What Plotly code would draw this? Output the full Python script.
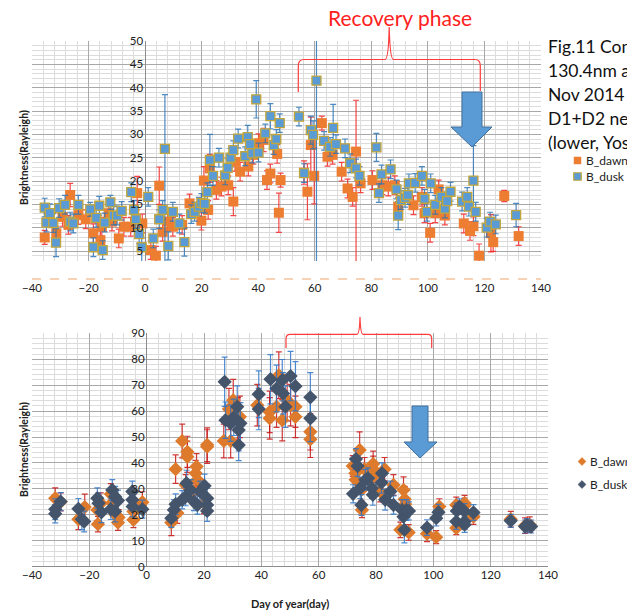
import plotly.graph_objects as go

W, H = 627, 613

# ---------------- data: top chart (squares) ----------------
top_dawn_x = [-35.5, -31.4, -29.2, -27.1, -26.5, -23.6, -21.0, -18.3, -15.8, -15.3,
              -12.9, -11.7, -9.3, -7.5, -5.1, -2.8, -1.0, 2.0, 3.8, 5.0,
              6.2, 8.0, 9.8, 13.1, 15.7, 19.9, 20.8, 22.3, 22.9, 25.2,
              27.0, 29.4, 31.2, 31.8, 33.6, 36.5, 38.3, 40.1, 41.9, 43.1,
              44.3, 46.7, 47.3, 47.9, 56.2, 57.4, 58.6, 59.8, 62.5, 64.5,
              66.3, 69.5, 71.6, 73.4, 74.6, 76.2, 80.4, 83.9, 86.0, 88.3,
              89.5, 94.9, 97.9, 98.8, 100.8, 102.6, 103.8, 106.0, 112.7, 114.9,
              116.1, 118.1, 122.3, 123.1, 127.0, 132.1]
top_dawn_y = [7.9, 8.8, 12.3, 10.6, 17.0, 12.7, 11.8, 8.8, 7.3, 10.2,
              13.1, 11.3, 7.7, 10.2, 10.2, 17.4, 10.9, 5.2, 4.0, 19.0,
              9.1, 11.3, 10.2, 10.6, 15.2, 11.5, 20.1, 13.8, 22.7, 18.1,
              18.8, 19.1, 15.6, 24.1, 22.0, 23.1, 25.6, 28.1, 28.8, 20.2,
              21.6, 25.8, 13.2, 20.2, 21.8, 17.7, 27.7, 21.1, 32.4, 25.2,
              25.6, 22.0, 18.4, 16.6, 26.3, 19.5, 20.2, 19.1, 18.8, 19.1,
              14.5, 14.8, 16.6, 13.1, 8.9, 13.1, 18.2, 12.6, 10.9, 9.3,
              10.3, 4.0, 8.8, 6.9, 16.8, 8.2]
top_dawn_err_up = [1.5, 1.5, 2, 2, 2.5, 2, 2, 2, 2, 2,
                   2, 2, 2, 2, 2, 3.6, 2, 2, 2, 4,
                   2, 2, 2, 2, 2, 2, 3, 2, 3, 2,
                   2, 2, 3, 2, 2, 2, 2, 2, 2.5, 2,
                   2, 2, 4.2, 1.5, 2.5, 6, 6, 6, 1.5, 2,
                   2, 2, 2, 2, 11, 2, 2, 2, 2, 2,
                   2, 2, 2, 2, 2, 2, 2, 2, 2, 2,
                   2, 2.5, 4, 2, 1.2, 2]
top_dawn_err_dn = [1.5, 1.5, 2, 2, 2.5, 2, 2, 2, 2, 2,
                   2, 2, 2, 2, 2, 3.6, 2, 2, 2, 4,
                   2, 2, 2, 2, 2, 2, 3, 2, 3, 2,
                   2, 2, 3, 2, 2, 2, 2, 2, 2.5, 2,
                   2, 2, 4.2, 1.5, 2.5, 6, 6, 6, 1.5, 2,
                   2, 2, 2, 2, 27, 2, 2, 2, 2, 2,
                   2, 2, 2, 2, 2, 2, 2, 2, 2, 2,
                   2, 2.5, 4, 2, 1.2, 2]

top_dusk_x = [-35.5, -34.9, -33.7, -32.5, -31.5, -30.4, -28.3, -26.5, -25.4, -23.6,
              -19.4, -18.3, -17.3, -16.2, -15.0, -14.3, -12.3, -11.1, -9.9, -8.3,
              -4.9, -3.9, -3.3, -2.1, -1.2, 1.1, 2.9, 5.0, 6.2, 7.0,
              8.2, 9.8, 12.1, 13.9, 16.3, 17.5, 19.0, 19.9, 21.1, 22.0,
              22.9, 24.0, 26.1, 28.3, 29.2, 30.2, 31.2, 32.9, 35.4, 36.3,
              37.1, 37.9, 39.3, 40.1, 42.5, 44.3, 45.5, 46.4, 47.6, 54.4,
              56.2, 58.6, 59.4, 60.6, 63.3, 65.4, 66.5, 67.5, 70.7, 72.5,
              74.6, 75.8, 81.8, 82.7, 83.6, 86.8, 88.9, 89.5, 90.5, 91.9,
              92.9, 93.3, 95.5, 97.9, 98.8, 99.6, 101.0, 102.6, 104.8, 106.0,
              106.8, 108.0, 112.1, 113.9, 114.5, 116.1, 116.9, 120.8, 122.0, 124.0,
              131.2]
top_dusk_y = [14.3, 11.1, 13.1, 11.0, 6.8, 14.2, 14.9, 11.3, 10.9, 14.9,
              13.9, 5.8, 12.1, 14.7, 5.2, 11.1, 15.4, 12.6, 12.6, 13.6,
              17.6, 13.8, 11.8, 8.6, 5.8, 16.6, 7.7, 11.8, 13.8, 26.9,
              6.1, 13.4, 10.9, 6.9, 12.9, 13.4, 14.5, 15.3, 15.1, 17.6,
              24.5, 21.1, 25.0, 21.2, 22.8, 25.0, 26.6, 29.1, 25.3, 29.4,
              27.9, 25.9, 37.5, 26.1, 30.2, 33.9, 27.7, 29.0, 32.4, 33.8,
              21.7, 30.9, 29.9, 41.5, 28.6, 27.3, 31.4, 27.9, 27.0, 23.8,
              22.7, 21.1, 27.2, 17.4, 21.4, 22.5, 18.2, 12.6, 15.9, 16.4,
              17.0, 19.5, 19.6, 21.1, 16.2, 13.4, 19.5, 14.9, 16.6, 14.1,
              15.7, 17.7, 15.6, 16.6, 14.5, 20.1, 13.4, 10.0, 11.3, 10.7,
              12.7]
top_dusk_err_up = [2, 2, 2, 2, 3, 2, 2, 2, 2, 2,
                   1.5, 2, 2, 2, 2, 2, 1.5, 2, 2, 2,
                   2, 2, 2, 2, 2, 2, 2, 2, 2, 11.6,
                   3, 2, 2, 3, 2, 2, 2, 2, 2, 2,
                   5.5, 2, 2, 2, 2, 2, 2, 2, 2, 2.5,
                   2, 2, 4, 2, 2, 2.7, 2, 2, 2, 2,
                   2, 3, 3, 10, 2, 2, 5, 2, 2, 2,
                   2, 2, 3, 2, 2, 2, 2, 3, 2, 2,
                   2, 2, 2, 2, 2, 2, 2, 2, 2, 2,
                   2, 2, 2, 2, 2, 7.5, 2, 2, 2, 2,
                   2.5]
top_dusk_err_dn = [2, 2, 2, 2, 3, 2, 2, 2, 2, 2,
                   1.5, 2, 2, 2, 2, 2, 1.5, 2, 2, 2,
                   2, 2, 2, 2, 5.8, 2, 2, 2, 2, 27,
                   3, 2, 2, 3, 2, 2, 2, 2, 2, 2,
                   5.5, 2, 2, 2, 2, 2, 2, 2, 2, 2.5,
                   2, 2, 4, 2, 2, 2.7, 2, 2, 2, 2,
                   2, 3, 3, 42, 2, 2, 5, 2, 2, 2,
                   2, 2, 3, 2, 2, 2, 2, 3, 2, 2,
                   2, 2, 2, 2, 2, 2, 2, 2, 2, 2,
                   2, 2, 2, 2, 2, 6, 2, 2, 2, 2,
                   2.5]

# ---------------- data: bottom chart (diamonds) ----------------
bot_dawn_x = [-31.9, -30.0, -23.8, -21.6, -17.2, -17.0, -16.0, -12.5, -12.0, -10.8,
              -10.0, -9.8, -4.6, -4.6, -1.5, 8.6, 10.1, 10.7, 12.4, 13.6,
              14.2, 14.2, 16.5, 17.1, 17.4, 17.7, 20.0, 21.1, 21.1, 26.9,
              28.7, 29.3, 30.2, 31.8, 32.5, 38.6, 42.9, 42.9, 45.3, 46.1,
              47.3, 49.0, 50.2, 51.9, 51.9, 57.1, 57.1, 71.9, 72.8, 72.9,
              74.3, 74.9, 75.1, 76.0, 79.0, 79.0, 79.0, 81.5, 83.0, 86.1,
              88.5, 89.6, 90.0, 90.2, 91.4, 97.8, 101.0, 102.1, 108.0, 108.0,
              110.9, 110.9, 114.0, 127.0, 132.0, 133.6]
bot_dawn_y = [26.4, 25.0, 18.3, 23.0, 21.9, 16.4, 24.5, 28.0, 24.7, 20.0,
              17.0, 19.0, 18.1, 21.3, 24.9, 17.0, 37.6, 20.7, 48.5, 31.5,
              42.4, 44.3, 29.0, 36.0, 38.6, 33.5, 24.5, 46.3, 47.0, 48.5,
              60.8, 48.5, 64.2, 57.2, 57.8, 62.3, 59.7, 57.2, 61.7, 73.8,
              56.5, 64.2, 62.3, 61.7, 57.8, 52.0, 49.1, 38.8, 36.0, 33.5,
              45.0, 29.6, 21.9, 37.6, 39.6, 37.6, 34.7, 29.0, 37.6, 31.5,
              14.2, 29.6, 26.0, 24.1, 13.2, 12.7, 11.4, 23.2, 23.8, 14.9,
              24.5, 23.5, 19.3, 18.3, 15.8, 16.2]
bot_dawn_err = [4, 3.5, 4, 5, 4, 3, 4, 4, 4, 3,
                3, 3, 3, 3, 4, 5, 5.5, 4, 6.5, 4,
                6, 6, 4, 5, 5, 4, 4, 6.5, 6.5, 6.5,
                8, 6.5, 8, 8, 8, 8, 8, 8, 8, 9,
                8, 8, 8, 8, 8, 7, 7, 4, 4, 4,
                7, 4, 3, 4.5, 5, 5, 5, 4, 4.5, 4,
                3, 5, 5, 5, 3, 3, 2.5, 3, 3, 2.5,
                3, 3, 3, 3, 3, 3]

bot_dusk_x = [-31.9, -31.9, -30.0, -23.8, -22.6, -21.8, -17.2, -16.8, -15.8, -12.0,
              -11.0, -12.5, -11.0, -10.0, -5.0, -5.0, -4.9, -1.5, 8.6, 9.5,
              10.1, 12.4, 13.6, 13.9, 15.3, 16.5, 17.7, 18.6, 20.2, 21.1,
              21.1, 21.1, 27.2, 27.5, 29.3, 30.4, 31.6, 32.1, 32.1, 32.7,
              39.1, 39.1, 43.2, 45.3, 47.3, 47.6, 48.4, 50.2, 51.9, 57.1,
              57.1, 72.0, 73.0, 73.6, 74.5, 74.9, 76.3, 77.2, 78.6, 78.9,
              82.1, 81.9, 83.2, 85.0, 86.1, 89.1, 89.6, 89.9, 90.6, 91.5,
              97.8, 101.0, 101.8, 108.0, 108.2, 109.1, 110.9, 110.9, 110.9, 114.0,
              127.0, 132.0, 132.7, 134.1]
bot_dusk_y = [22.2, 20.4, 25.1, 22.3, 18.3, 17.4, 26.4, 24.5, 21.0, 29.6,
              27.0, 22.2, 21.3, 25.5, 29.0, 25.8, 23.2, 22.2, 18.7, 21.9,
              24.1, 25.8, 27.0, 32.2, 29.6, 25.1, 23.8, 29.0, 31.2, 26.4,
              23.8, 21.5, 71.3, 56.5, 55.3, 57.6, 61.7, 52.7, 46.9, 55.3,
              66.5, 60.8, 72.3, 68.7, 71.9, 66.8, 61.7, 73.5, 69.6, 65.3,
              57.2, 28.1, 41.5, 38.8, 30.3, 23.8, 33.5, 34.1, 30.3, 27.7,
              36.0, 32.4, 25.8, 29.0, 23.8, 21.9, 19.3, 14.2, 21.9, 21.5,
              15.1, 18.7, 21.0, 17.4, 21.5, 23.2, 17.4, 16.2, 21.3, 20.9,
              17.7, 15.5, 16.0, 15.5]
bot_dusk_err = [4, 3.5, 3.5, 4, 4, 4, 4, 4, 4, 4,
                4, 4, 4, 4, 4, 4, 4, 3.5, 3.5, 4,
                4, 3.5, 3.5, 5, 4, 3.5, 3.5, 4, 4.5, 4,
                4, 4, 9.5, 7, 7, 7, 8, 8, 6, 8,
                9, 8, 9.5, 9, 8, 8, 8, 9.5, 9.5, 9.5,
                9, 3.5, 4, 4, 4, 4, 4, 4, 4, 4,
                4, 4, 4, 4, 3.5, 4, 4, 5, 4, 3.5,
                3, 3, 3, 3, 3, 3, 3, 3, 3, 3,
                2.5, 2.5, 2.5, 2.5]

x_ticks = [-40, -20, 0, 20, 40, 60, 80, 100, 120, 140]
top_y_ticks = [5, 10, 15, 20, 25, 30, 35, 40, 45, 50]
bot_y_ticks = [0, 10, 20, 30, 40, 50, 60, 70, 80, 90]
series_names = ["B_dawn", "B_dusk"]
side_text = ["Fig.11 Comparison of", "130.4nm and", "Nov 2014", "D1+D2 neutral", "(lower, Yoshioka)"]

FONT = "Lato, Carlito, 'Liberation Sans', sans-serif"
ORANGE_SQ = "#ED7D31"
BLUE_SQ = "#5B9BD5"
GOLD = "#C2A63C"
ORANGE_DI = "#DD7A2C"
DARK_DI = "#44546A"


def pxx(p):
    return p / W


def pxy(p):
    return 1 - p / H


fig = go.Figure()

# top chart
fig.add_trace(go.Scatter(
    x=top_dawn_x, y=top_dawn_y, mode="markers", name=series_names[0],
    marker=dict(symbol="square", size=10, color=ORANGE_SQ, line=dict(width=0)),
    error_y=dict(type="data", array=top_dawn_err_up, arrayminus=top_dawn_err_dn,
                 color="rgba(245,40,40,0.85)", thickness=1.2, width=3),
    xaxis="x", yaxis="y", showlegend=False))
fig.add_trace(go.Scatter(
    x=top_dusk_x, y=top_dusk_y, mode="markers", name=series_names[1],
    marker=dict(symbol="square", size=9, color=BLUE_SQ, line=dict(width=1.3, color=GOLD)),
    error_y=dict(type="data", array=top_dusk_err_up, arrayminus=top_dusk_err_dn,
                 color="rgba(46,117,182,0.85)", thickness=1.2, width=3),
    xaxis="x", yaxis="y", showlegend=False))

# bottom chart
fig.add_trace(go.Scatter(
    x=bot_dawn_x, y=bot_dawn_y, mode="markers", name=series_names[0],
    marker=dict(symbol="diamond", size=11, color=ORANGE_DI, line=dict(width=0)),
    error_y=dict(type="data", array=bot_dawn_err, color="rgba(200,20,20,0.85)",
                 thickness=1.2, width=3),
    xaxis="x2", yaxis="y2", showlegend=False))
fig.add_trace(go.Scatter(
    x=bot_dusk_x, y=bot_dusk_y, mode="markers", name=series_names[1],
    marker=dict(symbol="diamond", size=11, color=DARK_DI, line=dict(width=0)),
    error_y=dict(type="data", array=bot_dusk_err, color="rgba(46,117,200,0.85)",
                 thickness=1.2, width=3),
    xaxis="x2", yaxis="y2", showlegend=False))

MAJ = "#A8A8A8"
MIN = "#DCDCDC"
tickfont = dict(family=FONT, size=11.5, color="#222")

x_common = dict(range=[-40, 140], tickmode="array", tickvals=x_ticks,
                showgrid=True, gridcolor=MAJ, gridwidth=1,
                minor=dict(dtick=4, tick0=-40, showgrid=True, gridcolor=MIN, gridwidth=1),
                zeroline=True, zerolinecolor="#8C8C8C", zerolinewidth=1,
                showline=False, ticks="", tickfont=tickfont, fixedrange=True)

# top chart: grid ends at py 261, the dashed base line sits lower at py 279
TOP_Y0 = -1 + (279 - 261) * 51 / 238

fig.update_layout(
    width=W, height=H, margin=dict(l=0, r=0, t=0, b=0, autoexpand=False),
    paper_bgcolor="white", plot_bgcolor="white",
    font=dict(family=FONT),
    xaxis=dict(domain=[pxx(32), pxx(541)], anchor="y", ticklabelstandoff=18, **x_common),
    yaxis=dict(domain=[pxy(261), pxy(41)], range=[TOP_Y0, 50], anchor="free",
               position=pxx(32 + 40 * 509 / 180), tickmode="array", tickvals=top_y_ticks,
               showgrid=True, gridcolor=MAJ,
               minor=dict(dtick=1, tick0=0, showgrid=True, gridcolor=MIN),
               zeroline=False, showline=False, ticks="", tickfont=tickfont,
               ticklabelstandoff=2, fixedrange=True),
    xaxis2=dict(domain=[pxx(32), pxx(548)], anchor="y2", **x_common),
    yaxis2=dict(domain=[pxy(566.7), pxy(333.3)], range=[0, 90], anchor="free",
                position=pxx(32 + 40 * 516 / 180), tickmode="array", tickvals=bot_y_ticks,
                showgrid=True, gridcolor=MAJ,
                minor=dict(dtick=2, tick0=0, showgrid=True, gridcolor=MIN),
                zeroline=True, zerolinecolor="#8C8C8C", zerolinewidth=1.2,
                showline=False, ticks="", tickfont=tickfont,
                ticklabelstandoff=2, fixedrange=True),
)

shapes = []
# dashed orange baseline of top chart
shapes.append(dict(type="line", xref="paper", yref="paper",
                   x0=pxx(32), x1=pxx(541), y0=pxy(279), y1=pxy(279),
                   line=dict(color="#F6C39C", width=1.3, dash="dash")))


def pth(cmds, close=False):
    s = ""
    for cmd, pts in cmds:
        s += cmd + " " + " ".join("%.5f,%.5f" % (pxx(a), pxy(b)) for a, b in pts) + " "
    if close:
        s += "Z"
    return s


def poly(points):
    cmds = [("M", [points[0]])] + [("L", [p]) for p in points[1:]]
    return pth(cmds, close=True)


# curly braces (red)
top_brace = pth([("M", [(298.3, 92)]), ("L", [(298.3, 66)]),
                 ("Q", [(298.3, 59.5), (304, 59.5)]), ("L", [(385, 59.5)]),
                 ("Q", [(388.5, 59.5), (389.2, 27)]), ("Q", [(390, 59.5), (393.5, 59.5)]),
                 ("L", [(475, 59.5)]), ("Q", [(480.3, 59.5), (480.3, 66)]),
                 ("L", [(480.3, 91)])])
bot_brace = pth([("M", [(286, 348)]), ("L", [(286, 339)]),
                 ("Q", [(286, 334.3), (290, 334.3)]), ("L", [(357, 334.3)]),
                 ("Q", [(359.5, 334.3), (360, 317)]), ("Q", [(360.5, 334.3), (363, 334.3)]),
                 ("L", [(428, 334.3)]), ("Q", [(431.7, 334.3), (431.7, 339)]),
                 ("L", [(431.7, 348)])])
for p in (top_brace, bot_brace):
    shapes.append(dict(type="path", xref="paper", yref="paper", path=p,
                       line=dict(color="#FF3B3B", width=1.2)))

# blue arrows
top_arrow = poly([(462, 92), (482, 92), (482, 127), (492, 127), (472, 147), (451, 127), (462, 127)])
bot_arrow = poly([(412, 406), (428, 406), (428, 442), (437, 442), (420, 458), (404, 442), (412, 442)])
for p in (top_arrow, bot_arrow):
    shapes.append(dict(type="path", xref="paper", yref="paper", path=p,
                       fillcolor="#5B9BD5", line=dict(color="#41719C", width=1)))


# legend symbols (top: squares, bottom: diamonds)
def sq(cx, cy, s, fill, border=None):
    return dict(type="rect", xref="paper", yref="paper",
                x0=pxx(cx - s / 2), x1=pxx(cx + s / 2), y0=pxy(cy + s / 2), y1=pxy(cy - s / 2),
                fillcolor=fill, line=dict(color=border or fill, width=1.2 if border else 0))


def dia(cx, cy, s, fill):
    return dict(type="path", xref="paper", yref="paper",
                path=poly([(cx, cy - s / 2), (cx + s / 2, cy), (cx, cy + s / 2), (cx - s / 2, cy)]),
                fillcolor=fill, line=dict(color=fill, width=0.5))


shapes.append(sq(577.5, 160.5, 7.5, ORANGE_SQ))
shapes.append(sq(577.5, 176.5, 7.5, BLUE_SQ, GOLD))
shapes.append(dia(582, 461.5, 8, ORANGE_DI))
shapes.append(dia(582, 484.5, 8, DARK_DI))

annotations = []
for (lx, ly, txt, fs) in [(584, 160.5, series_names[0], 12), (584, 176.5, series_names[1], 12),
                          (588, 461.5, series_names[0], 11.8), (588, 484.5, series_names[1], 11.8)]:
    annotations.append(dict(x=pxx(lx), y=pxy(ly), xref="paper", yref="paper", text=txt,
                            showarrow=False, xanchor="left", yanchor="middle",
                            font=dict(family=FONT, size=fs, color="#222")))

# side text (cut by the window edge, as in the original slide)
for i, t in enumerate(side_text):
    annotations.append(dict(x=pxx(546), y=pxy(46 + i * 24.2), xref="paper", yref="paper",
                            text=t, showarrow=False, xanchor="left", yanchor="middle",
                            font=dict(family=FONT, size=17.5, color="#111")))

annotations.append(dict(x=pxx(400), y=pxy(18), xref="paper", yref="paper",
                        text="Recovery phase", showarrow=False, xanchor="center", yanchor="middle",
                        font=dict(family=FONT, size=21, color="#FF2020")))

# axis titles
for cy in (158, 450):
    annotations.append(dict(x=pxx(24), y=pxy(cy), xref="paper", yref="paper",
                            text="<b>Brightness(Rayleigh)</b>", textangle=-90, showarrow=False,
                            xanchor="center", yanchor="middle",
                            font=dict(family=FONT, size=10.5, color="#222")))
annotations.append(dict(x=pxx(290), y=pxy(603), xref="paper", yref="paper",
                        text="<b>Day of year(day)</b>", showarrow=False,
                        xanchor="center", yanchor="middle",
                        font=dict(family=FONT, size=11, color="#222")))

fig.update_layout(shapes=shapes, annotations=annotations)

fig.write_html("out.html", config={"displayModeBar": False},
               post_script="document.body.style.margin='0';document.body.style.overflow='hidden';")
